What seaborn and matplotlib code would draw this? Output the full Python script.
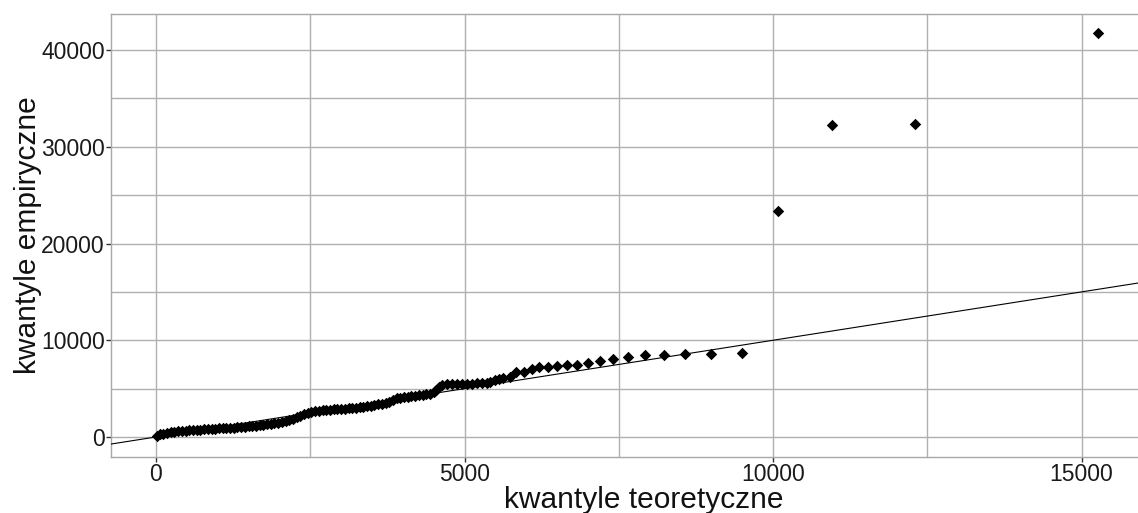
import numpy as np
import pandas as pd
import seaborn as sns
from matplotlib import pyplot as plt
from matplotlib.ticker import MultipleLocator

teor = [10, 60, 120, 180, 240, 300, 360, 420, 480, 540, 600, 660, 720, 780, 840,
        900, 960, 1020, 1080, 1140, 1200, 1260, 1320, 1380, 1440, 1500, 1560, 1620,
        1680, 1740, 1800, 1860, 1920, 1980, 2040, 2100, 2160, 2220, 2280, 2340, 2400,
        2460, 2520, 2580, 2640, 2700, 2760, 2820, 2880, 2940, 3000, 3060, 3120, 3180,
        3240, 3300, 3360, 3420, 3480, 3540, 3600, 3660, 3720, 3780, 3840, 3900, 3960,
        4020, 4080, 4140, 4200, 4260, 4320, 4380, 4440, 4500, 4540, 4580, 4630, 4711,
        4792, 4873, 4954, 5035, 5115, 5196, 5277, 5358, 5412, 5493, 5553, 5628, 5737,
        5834, 5968, 6088, 6211, 6347, 6498, 6655, 6822, 6996, 7200, 7401, 7653, 7919,
        8237, 8577, 8994, 9496, 10086, 10958, 12294, 15266]
emp = [150, 260, 350, 420, 480, 530, 580, 630, 660, 690, 720, 740, 760, 790, 810,
       830, 860, 880, 900, 930, 960, 980, 1010, 1040, 1070, 1100, 1130, 1170,
       1210, 1250, 1300, 1350, 1400, 1460, 1530, 1620, 1730, 1880, 2040, 2200, 2350,
       2500, 2610, 2660, 2710, 2750, 2790, 2830, 2860, 2890, 2910, 2940, 2960, 2990,
       3030, 3080, 3130, 3180, 3230, 3290, 3360, 3430, 3530, 3660, 3820, 4000, 4080,
       4130, 4180, 4230, 4270, 4320, 4370, 4420, 4480, 4620, 4860, 5120, 5400, 5460,
       5480, 5490, 5500, 5510, 5520, 5530, 5540, 5600, 5730, 5900, 6010, 6100, 6150,
       6700, 6740, 7000, 7200, 7230, 7380, 7390, 7400, 7600, 7900, 8050, 8290, 8440,
       8460, 8560, 8580, 8680, 23350, 32260, 32400, 41790]

df = pd.DataFrame({"teor": teor, "emp": emp})

sns.set_theme(style="white")
plt.rcParams['font.family'] = ['Liberation Sans', 'DejaVu Sans']

fig = plt.figure(figsize=(11.38, 5.13), dpi=100)
ax = fig.add_axes([111 / 1138, 56.3 / 513, 1034 / 1138, 442.7 / 513])

sns.scatterplot(data=df, x="teor", y="emp", ax=ax, color="black", s=34,
                marker="D", linewidth=0, zorder=3)
ax.axline((0, 0), slope=1, color="black", linewidth=0.8, zorder=4)

ax.set_xlim(-729, 16027)
ax.set_ylim(-2038, 43726)
ax.xaxis.set_major_locator(MultipleLocator(5000))
ax.xaxis.set_minor_locator(MultipleLocator(2500))
ax.yaxis.set_major_locator(MultipleLocator(10000))
ax.yaxis.set_minor_locator(MultipleLocator(5000))

gc = "#b0b0b0"
ax.grid(which="both", color=gc, linewidth=1.0)
ax.set_axisbelow(True)
for sp in ax.spines.values():
    sp.set_color("#a8a8a8")
    sp.set_linewidth(1.0)

ax.tick_params(axis="both", which="major", labelsize=16.5, labelcolor="#1a1a1a",
               length=3.5, width=1.0, color="#333333", pad=1.0, bottom=True, left=True)
ax.tick_params(axis="both", which="minor", length=0)

ax.set_xlabel("kwantyle teoretyczne", fontsize=21.5, color="#111111")
ax.set_ylabel("kwantyle empiryczne", fontsize=21.5, color="#111111")
ax.xaxis.set_label_coords(0.515, -0.066)
ax.xaxis.label.set_va("top")
ax.yaxis.set_label_coords(-0.080, 0.5)
ax.yaxis.label.set_va("center")

fig.savefig("out.png", dpi=100)
